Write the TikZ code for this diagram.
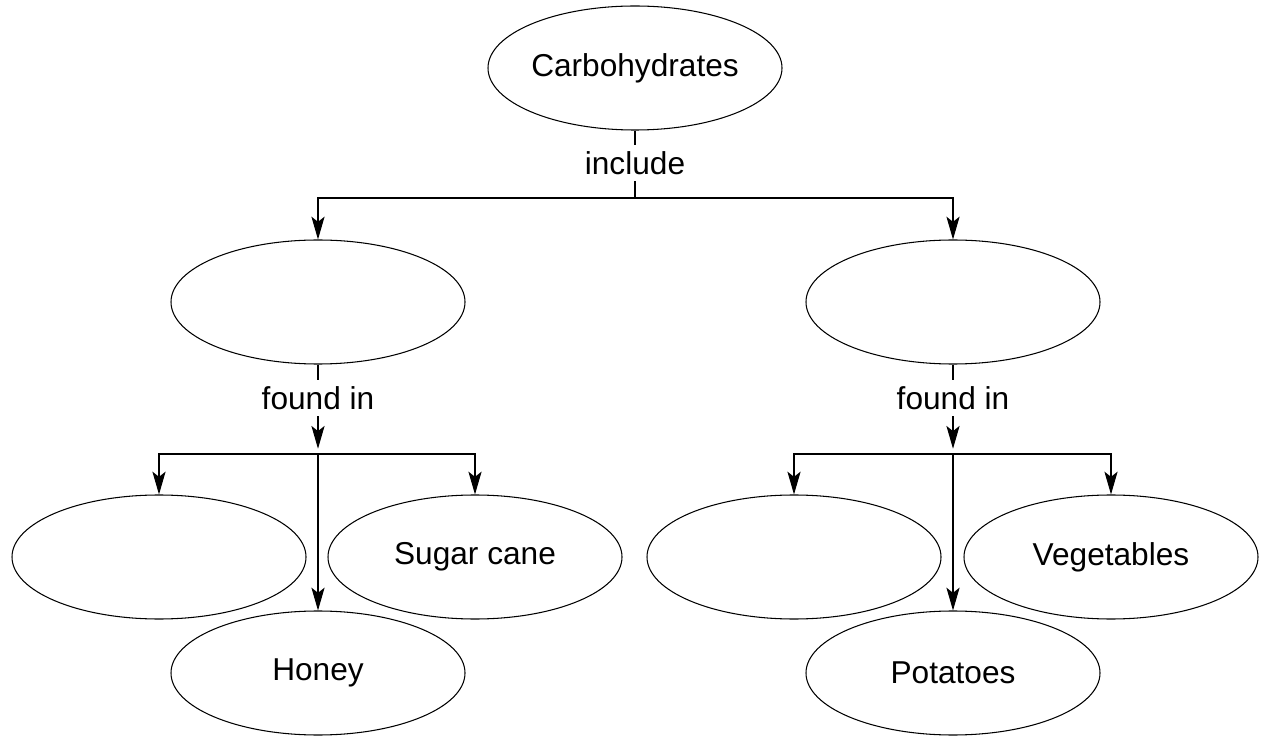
\documentclass[tikz,border=0pt]{standalone}
\usepackage{fontspec}
\setmainfont{Liberation Sans}
\usetikzlibrary{arrows.meta, shapes.geometric}

\begin{document}
\begin{tikzpicture}[>={Stealth[length=13pt, width=7.5pt, inset=3pt]}, line width=0.6pt,
  concept/.style={draw, ellipse, minimum width=5.88cm, minimum height=2.48cm, inner sep=0pt, font=\fontsize{18}{22}\selectfont},
  link/.style={fill=white, inner sep=3.5pt, font=\fontsize{18}{22}\selectfont}]

\useasboundingbox (0,0) rectangle (25.28,-14.76);

% Concepts
\node[concept] (carb) at (12.7,-1.36) {Carbohydrates};
\node[concept] (sugars) at (6.36,-6.04) {};
\node[concept] (starches) at (19.06,-6.04) {};
\node[concept] (fruit) at (3.18,-11.14) {};
\node[concept] (cane) at (9.5,-11.14) {Sugar cane};
\node[concept] (honey) at (6.36,-13.46) {Honey};
\node[concept] (grains) at (15.88,-11.14) {};
\node[concept] (veg) at (22.22,-11.14) {Vegetables};
\node[concept] (potatoes) at (19.06,-13.46) {Potatoes};

% Linking words
\node[link] (incl) at (12.7,-3.26) {include};
\node[link] (foundA) at (6.36,-7.96) {found in};
\node[link] (foundB) at (19.06,-7.96) {found in};

% Junctions
\coordinate (topjoin) at (12.7,-3.96);
\coordinate (joinA) at (6.36,-9.08);
\coordinate (joinB) at (19.06,-9.08);

% Links from the top
\draw (carb) -- (incl);
\draw (incl) -- (topjoin);
\draw[->] (topjoin) -| (sugars);
\draw[->] (topjoin) -| (starches);

% Left branch
\draw (sugars) -- (foundA);
\draw[->, shorten >=3pt] (foundA) -- (joinA);
\draw[->] (joinA) -| (fruit);
\draw[->] (joinA) -| (cane);
\draw[->] (joinA) -- (honey);

% Right branch
\draw (starches) -- (foundB);
\draw[->, shorten >=3pt] (foundB) -- (joinB);
\draw[->] (joinB) -| (grains);
\draw[->] (joinB) -| (veg);
\draw[->] (joinB) -- (potatoes);

\end{tikzpicture}
\end{document}
